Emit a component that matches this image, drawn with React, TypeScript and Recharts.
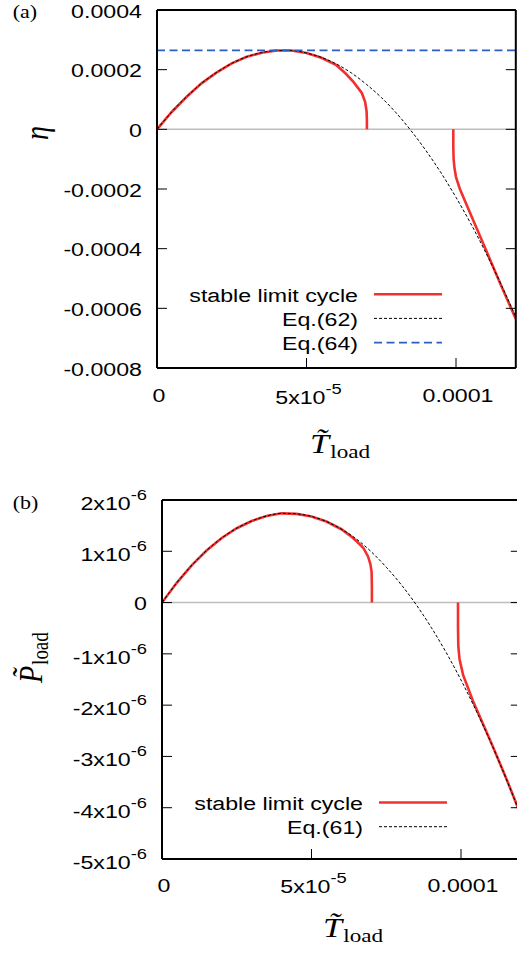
import React from "react";
import { LineChart, Line, XAxis, YAxis, ReferenceLine, Legend } from "recharts";

// T_load in units of 1e-5, eta in units of 1e-4, P_load in units of 1e-6
const gridT = [0, 0.5, 1, 1.5, 2, 2.5, 3, 3.5, 4, 4.5, 5, 5.5, 6, 6.5, 7, 7.5, 8, 8.5, 9, 9.5, 10, 10.5, 11, 11.5, 12];

// panel (a)
const eq62Eta = [0, 0.59, 1.1, 1.55, 1.91, 2.21, 2.43, 2.57, 2.64, 2.64, 2.56, 2.41, 2.19, 1.89, 1.51, 1.07, 0.55, -0.05, -0.72, -1.46, -2.28, -3.17, -4.14, -5.18, -6.29];
const eq64T = [0, 12];
const eq64Eta = [2.65, 2.65];
const cycleAT = [0, 0.5, 1, 1.5, 2, 2.5, 3, 3.5, 4, 4.5, 5, 5.5, 6, 6.3, 6.57, 6.85, 6.96, 7.01, 7.02, 7.02, 8.5, 9.91, 9.91, 9.92, 9.95, 10.0, 10.13, 10.5, 11, 11.5, 12];
const cycleAEta = [0, 0.59, 1.1, 1.55, 1.91, 2.21, 2.43, 2.57, 2.64, 2.64, 2.56, 2.4, 2.15, 1.88, 1.59, 1.22, 0.92, 0.6, 0.3, 0, null, 0, -0.6, -1.0, -1.3, -1.6, -2.0, -2.87, -4.04, -5.22, -6.36];

// panel (b)
const eq61P = [0, 0.39, 0.73, 1.02, 1.26, 1.45, 1.59, 1.69, 1.74, 1.73, 1.68, 1.58, 1.43, 1.24, 0.99, 0.69, 0.35, -0.04, -0.48, -0.97, -1.51, -2.1, -2.73, -3.42, -4.15];
const cycleBT = [0, 0.5, 1, 1.5, 2, 2.5, 3, 3.5, 4, 4.5, 5, 5.5, 6, 6.28, 6.5, 6.73, 6.89, 6.97, 7.01, 7.02, 7.02, 8.5, 9.9, 9.9, 9.91, 9.95, 10.07, 10.4, 11, 11.5, 12];
const cycleBP = [0, 0.39, 0.73, 1.02, 1.26, 1.45, 1.59, 1.69, 1.74, 1.73, 1.68, 1.58, 1.43, 1.31, 1.2, 1.07, 0.9, 0.75, 0.6, 0.3, 0, null, 0, -0.5, -0.85, -1.1, -1.41, -1.92, -2.72, -3.41, -4.14];

const xTicks = [0, 5, 10];
const xTickBase = ["0", "5x10", "0.0001"];
const xTickSup = ["", "-5", ""];
const yTicksA = [-8, -6, -4, -2, 0, 2, 4];
const yTickBaseA = ["-0.0008", "-0.0006", "-0.0004", "-0.0002", "0", "0.0002", "0.0004"];
const yTicksB = [-5, -4, -3, -2, -1, 0, 1, 2];
const yTickBaseB = ["-5x10", "-4x10", "-3x10", "-2x10", "-1x10", "0", "1x10", "2x10"];
const yTickSupB = ["-6", "-6", "-6", "-6", "-6", "", "-6", "-6"];
const legendOrder = ["stable limit cycle", "Eq.(62)", "Eq.(64)", "Eq.(61)"];

const rows = (xs: number[], ys: (number | null)[]) => xs.map((t, i) => ({ t, v: ys[i] }));

const SANS = "'Liberation Sans', Arial, Helvetica, sans-serif";
const SERIF = "'Liberation Serif', 'Times New Roman', serif";
const SX = 1.22;
const RED = "#f23030";
const BLUE = "#2c5fc4";
const AXIS = { stroke: "#000", strokeWidth: 2 };
const TICK = { stroke: "#000", strokeWidth: 1 };

const Empty = () => <g />;

const XTick = (props: any) => {
  const { x, payload, baseY, dx } = props;
  const i = xTicks.indexOf(payload.value);
  const sup = xTickSup[i];
  return (
    <g transform={`translate(${x + dx},${baseY + (sup ? 1.5 : 0)}) scale(${SX},1)`}>
      <text textAnchor="middle" fontFamily={SANS} fontSize={19} fill="#000">
        {xTickBase[i]}
        {sup ? <tspan dy={-10} fontSize={15}>{sup}</tspan> : null}
      </text>
    </g>
  );
};

const YTick = (props: any) => {
  const { y, payload, rightX, ticks, bases, sups } = props;
  const i = ticks.indexOf(payload.value);
  const sup = sups ? sups[i] : "";
  return (
    <g transform={`translate(${rightX},${y + (sup ? 10 : 7.5)}) scale(${SX},1)`}>
      <text textAnchor="end" fontFamily={SANS} fontSize={19} fill="#000">
        {bases[i]}
        {sup ? <tspan dy={-10} fontSize={15}>{sup}</tspan> : null}
      </text>
    </g>
  );
};

const makeLegend = (textRight: number, baseY: number, x1: number, x2: number, w: number, h: number) => (props: any) => {
  const items = [...(props.payload || [])].sort(
    (a: any, b: any) => legendOrder.indexOf(a.value) - legendOrder.indexOf(b.value)
  );
  return (
    <svg width={w} height={h} style={{ display: "block" }}>
      {items.map((it: any, i: number) => {
        const p = it.payload || {};
        const y = baseY + i * 24.2;
        return (
          <g key={i}>
            <g transform={`translate(${textRight},${y}) scale(${SX},1)`}>
              <text textAnchor="end" fontFamily={SANS} fontSize={19} fill="#000">{it.value}</text>
            </g>
            <line x1={x1} x2={x2} y1={y - 7.5} y2={y - 7.5} stroke={it.color || p.stroke} strokeWidth={p.strokeWidth || 1} strokeDasharray={p.strokeDasharray} />
          </g>
        );
      })}
    </svg>
  );
};

const legendA = makeLegend(358, 301.7, 374, 442, 560, 470);
const legendB = makeLegend(363, 340, 379, 447, 560, 483);

const LoadTitle = ({ sym }: { sym: string }) => (
  <text fontFamily={SERIF} fill="#000">
    <tspan fontStyle="italic" fontSize={28}>{sym + "\u0303"}</tspan>
    <tspan dy={5} dx={1} fontSize={19}>load</tspan>
  </text>
);

export default function App() {
  return (
    <div style={{ position: "absolute", left: 0, top: 0, width: 517, height: 953, overflow: "hidden", background: "#fff" }}>
      <LineChart width={560} height={470} margin={{ top: 10, left: 157, right: 44.2, bottom: 102 }} style={{ position: "absolute", left: 0, top: 0 }}>
        <ReferenceLine y={0} stroke="#bdbdbd" strokeWidth={1.5} />
        <XAxis dataKey="t" type="number" domain={[0, 12]} ticks={xTicks} interval={0} allowDataOverflow mirror tickSize={10} axisLine={AXIS} tickLine={TICK} tick={<XTick baseY={402} dx={2} />} />
        <XAxis xAxisId="top" orientation="top" type="number" domain={[0, 12]} ticks={xTicks} interval={0} allowDataOverflow mirror tickSize={10} axisLine={AXIS} tickLine={TICK} tick={<Empty />} />
        <YAxis type="number" domain={[-8, 4]} ticks={yTicksA} interval={0} allowDataOverflow mirror tickSize={10} axisLine={AXIS} tickLine={TICK} tick={<YTick rightX={142} ticks={yTicksA} bases={yTickBaseA} />} />
        <YAxis yAxisId="right" orientation="right" type="number" domain={[-8, 4]} ticks={yTicksA} interval={0} allowDataOverflow mirror tickSize={10} axisLine={AXIS} tickLine={TICK} tick={<Empty />} />
        <Line data={rows(cycleAT, cycleAEta)} dataKey="v" name="stable limit cycle" type="linear" stroke={RED} strokeWidth={2.6} dot={false} connectNulls={false} isAnimationActive={false} />
        <Line data={rows(gridT, eq62Eta)} dataKey="v" name="Eq.(62)" type="monotone" stroke="#000" strokeWidth={1} strokeDasharray="3 2" dot={false} isAnimationActive={false} />
        <Line data={rows(eq64T, eq64Eta)} dataKey="v" name="Eq.(64)" type="linear" stroke={BLUE} strokeWidth={1.7} strokeDasharray="8 4.5" dot={false} isAnimationActive={false} />
        <Legend layout="vertical" align="center" verticalAlign="middle" content={legendA} wrapperStyle={{ left: 0, top: 0, width: 560, height: 470 }} />
      </LineChart>

      <LineChart width={560} height={483} margin={{ top: 30, left: 162, right: 39.2, bottom: 94 }} style={{ position: "absolute", left: 0, top: 470 }}>
        <ReferenceLine y={0} stroke="#bdbdbd" strokeWidth={1.5} />
        <XAxis dataKey="t" type="number" domain={[0, 12]} ticks={xTicks} interval={0} allowDataOverflow mirror tickSize={10} axisLine={AXIS} tickLine={TICK} tick={<XTick baseY={421.7} dx={2} />} />
        <XAxis xAxisId="top" orientation="top" type="number" domain={[0, 12]} ticks={xTicks} interval={0} allowDataOverflow mirror tickSize={10} axisLine={AXIS} tickLine={TICK} tick={<Empty />} />
        <YAxis type="number" domain={[-5, 2]} ticks={yTicksB} interval={0} allowDataOverflow mirror tickSize={10} axisLine={AXIS} tickLine={TICK} tick={<YTick rightX={147} ticks={yTicksB} bases={yTickBaseB} sups={yTickSupB} />} />
        <YAxis yAxisId="right" orientation="right" type="number" domain={[-5, 2]} ticks={yTicksB} interval={0} allowDataOverflow mirror tickSize={10} axisLine={AXIS} tickLine={TICK} tick={<Empty />} />
        <Line data={rows(cycleBT, cycleBP)} dataKey="v" name="stable limit cycle" type="linear" stroke={RED} strokeWidth={2.6} dot={false} connectNulls={false} isAnimationActive={false} />
        <Line data={rows(gridT, eq61P)} dataKey="v" name="Eq.(61)" type="monotone" stroke="#000" strokeWidth={1} strokeDasharray="3 2" dot={false} isAnimationActive={false} />
        <Legend layout="vertical" align="center" verticalAlign="middle" content={legendB} wrapperStyle={{ left: 0, top: 0, width: 560, height: 483 }} />
      </LineChart>

      <svg width={517} height={953} style={{ position: "absolute", left: 0, top: 0, pointerEvents: "none" }}>
        <g transform={`translate(12.7,18) scale(${SX},1)`}>
          <text fontFamily={SERIF} fontSize={18} fill="#000">(a)</text>
        </g>
        <g transform={`translate(12.7,509) scale(${SX},1)`}>
          <text fontFamily={SERIF} fontSize={18} fill="#000">(b)</text>
        </g>
        <g transform={`translate(48,133) scale(${SX},1) rotate(-90)`}>
          <text textAnchor="middle" fontFamily={SERIF} fontStyle="italic" fontSize={28} fill="#000">η</text>
        </g>
        <g transform={`translate(310,453) scale(${SX},1)`}>
          <LoadTitle sym="T" />
        </g>
        <g transform={`translate(323,937) scale(${SX},1)`}>
          <LoadTitle sym="T" />
        </g>
        <g transform={`translate(42,683) scale(${SX},1) rotate(-90)`}>
          <LoadTitle sym="P" />
        </g>
      </svg>
    </div>
  );
}
